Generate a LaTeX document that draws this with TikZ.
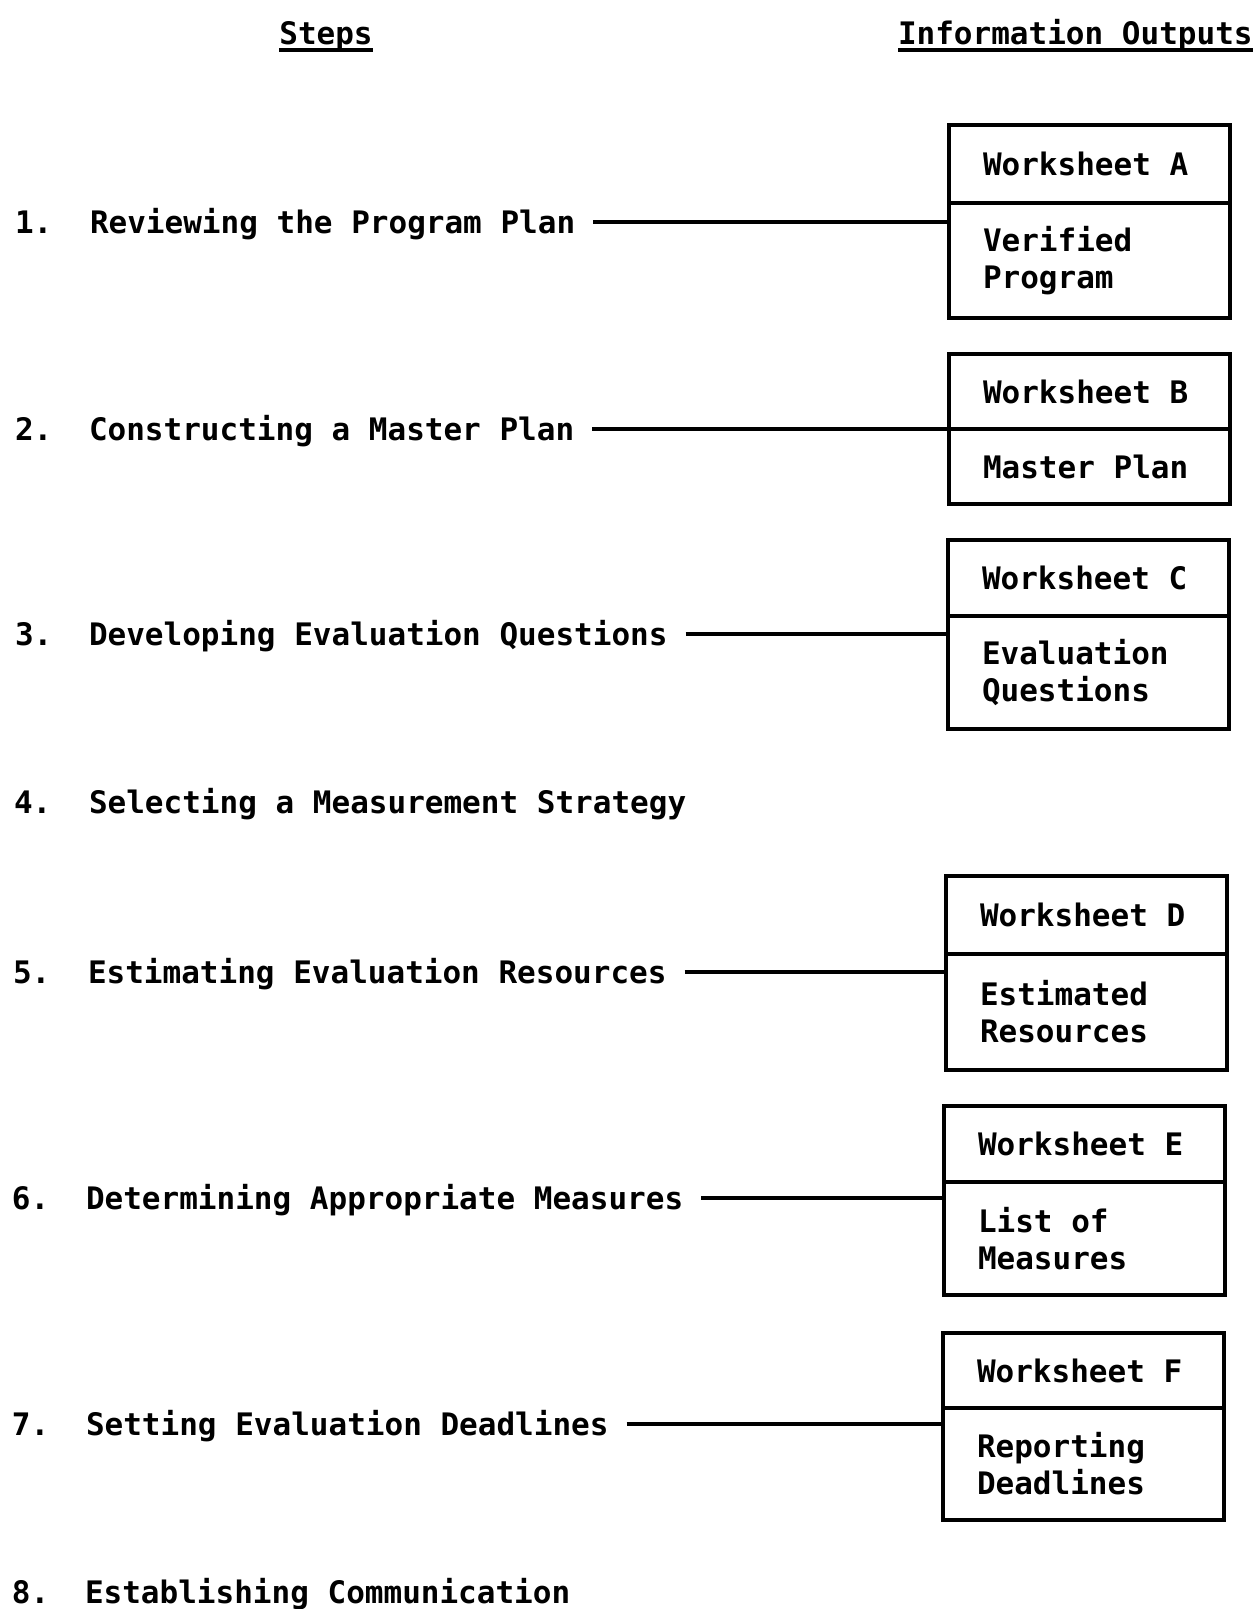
\documentclass[tikz,border=0pt]{standalone}
\usepackage{fontspec}
\setmonofont{DejaVu Sans Mono}
\begin{document}
\begin{tikzpicture}[x=1pt,y=-1pt,
  every node/.style={font=\ttfamily\bfseries\fontsize{31}{37}\selectfont, outer sep=0pt},
  hdr/.style={inner sep=0pt, text height=22pt, text depth=0pt},
  ul/.style={line width=3.5pt},
  num/.style={anchor=west, inner sep=0pt, text height=22pt, text depth=0pt},
  steptext/.style={anchor=west, inner xsep=18pt, inner ysep=0pt, text height=22pt, text depth=0pt},
  conn/.style={line width=3.5pt},
  sect/.style={draw, line width=3.5pt, anchor=north west, align=left,
    inner xsep=34pt, inner ysep=0pt, text width=213pt,
    execute at begin node={\spaceskip=0.602em\relax\xspaceskip=0.602em\relax}},
]
\useasboundingbox[fill=white] (0,0) rectangle (1256,1609);

% column headings
\node[hdr] (hs) at (326,33) {Steps};
\node[hdr, anchor=west] (ho) at (898,33) {Information Outputs};
\draw[ul] ([yshift=-6pt]hs.south west) -- ([yshift=-6pt]hs.south east);
\draw[ul] ([yshift=-6pt]ho.south west) -- ([yshift=-6pt]ho.south east);

% steps
\node[num] (n1) at (15,222) {1.};
\node[steptext] (s1) at (72,222) {Reviewing the Program Plan};
\node[num] (n2) at (15,429) {2.};
\node[steptext] (s2) at (71,429) {Constructing a Master Plan};
\node[num] (n3) at (15,634) {3.};
\node[steptext] (s3) at (71,634) {Developing Evaluation Questions};
\node[num] (n4) at (14,802) {4.};
\node[steptext] (s4) at (71,802) {Selecting a Measurement Strategy};
\node[num] (n5) at (13,972) {5.};
\node[steptext] (s5) at (70,972) {Estimating Evaluation Resources};
\node[num] (n6) at (12,1198) {6.};
\node[steptext] (s6) at (68,1198) {Determining Appropriate Measures};
\node[num] (n7) at (12,1424) {7.};
\node[steptext] (s7) at (68,1424) {Setting Evaluation Deadlines};
\node[num] (n8) at (12,1592) {8.};
\node[steptext] (s8) at (67,1592) {Establishing Communication};

% worksheets and their outputs
\node[sect, minimum height=78pt] (wA) at (949,125) {Worksheet A};
\node[sect, minimum height=115pt] (oA) at (wA.south west) {Verified\\Program};
\node[sect, minimum height=75pt] (wB) at (949,354) {Worksheet B};
\node[sect, minimum height=75pt] (oB) at (wB.south west) {Master Plan};
\node[sect, minimum height=76pt] (wC) at (948,540) {Worksheet C};
\node[sect, minimum height=113pt] (oC) at (wC.south west) {Evaluation\\Questions};
\node[sect, minimum height=78pt] (wD) at (946,876) {Worksheet D};
\node[sect, minimum height=116pt] (oD) at (wD.south west) {Estimated\\Resources};
\node[sect, minimum height=76pt] (wE) at (944,1106) {Worksheet E};
\node[sect, minimum height=113pt] (oE) at (wE.south west) {List of\\Measures};
\node[sect, minimum height=75pt] (wF) at (943,1333) {Worksheet F};
\node[sect, minimum height=112pt] (oF) at (wF.south west) {Reporting\\Deadlines};

% connectors from steps to outputs
\draw[conn] (s1.east) -- (s1.east -| oA.west);
\draw[conn] (s2.east) -- (s2.east -| oB.west);
\draw[conn] (s3.east) -- (s3.east -| oC.west);
\draw[conn] (s5.east) -- (s5.east -| oD.west);
\draw[conn] (s6.east) -- (s6.east -| oE.west);
\draw[conn] (s7.east) -- (s7.east -| oF.west);
\end{tikzpicture}
\end{document}
